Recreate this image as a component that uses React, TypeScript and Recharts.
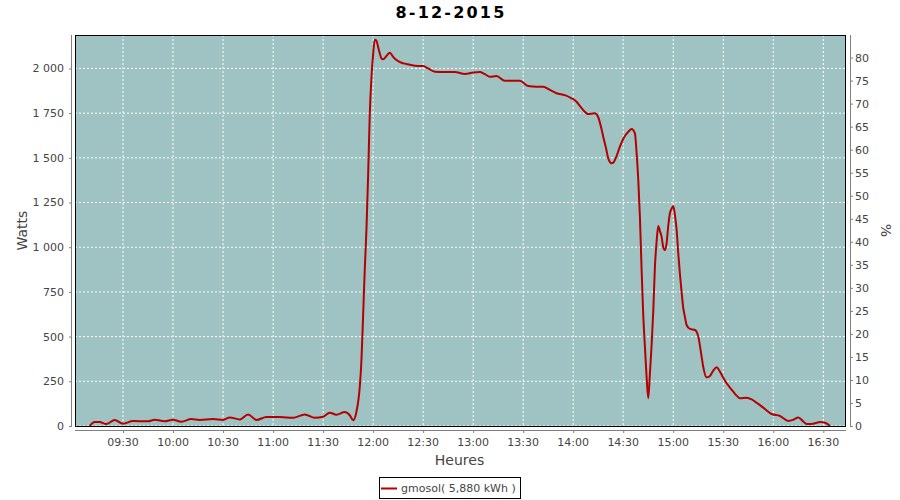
import React from "react";
import { LineChart, Line, XAxis, YAxis, CartesianGrid } from "recharts";

// ---------- data ----------
const TITLE = "8-12-2015";
const SERIES_NAME = "gmosol( 5,880 kWh )";
const X_LABEL = "Heures";
const Y_LEFT_LABEL = "Watts";
const Y_RIGHT_LABEL = "%";

const TIMES = [
  "09:10", "09:13", "09:16", "09:20", "09:25", "09:30", "09:36", "09:45", "09:49", "09:55",
  "10:00", "10:05", "10:11", "10:16", "10:24", "10:30", "10:34", "10:40", "10:45", "10:50",
  "10:56", "11:04", "11:12", "11:19", "11:25", "11:30", "11:34", "11:38", "11:43", "11:46",
  "11:48", "11:50", "11:52", "11:53", "11:54", "11:55", "11:56", "11:57", "11:58", "11:59",
  "12:00", "12:01", "12:02", "12:03", "12:04", "12:05", "12:06", "12:08", "12:10", "12:12",
  "12:14", "12:17", "12:20", "12:25", "12:30", "12:33", "12:37", "12:43", "12:49", "12:55",
  "13:00", "13:04", "13:07", "13:10", "13:14", "13:19", "13:24", "13:28", "13:33", "13:38",
  "13:42", "13:46", "13:50", "13:55", "13:59", "14:02", "14:04", "14:06", "14:09", "14:11",
  "14:13", "14:15", "14:17", "14:18", "14:20", "14:21", "14:23", "14:24", "14:26", "14:28",
  "14:30", "14:31", "14:33", "14:35", "14:37", "14:38", "14:39", "14:40", "14:41", "14:42",
  "14:43", "14:44", "14:45", "14:46", "14:47", "14:48", "14:49", "14:50", "14:51", "14:52",
  "14:53", "14:54", "14:55", "14:56", "14:57", "14:58", "14:59", "15:00", "15:01", "15:02",
  "15:03", "15:04", "15:05", "15:06", "15:07", "15:08", "15:10", "15:13", "15:15", "15:17",
  "15:18", "15:20", "15:22", "15:24", "15:26", "15:28", "15:30", "15:32", "15:34", "15:36",
  "15:38", "15:40", "15:44", "15:47", "15:50", "15:52", "15:55", "15:59", "16:04", "16:09",
  "16:12", "16:15", "16:18", "16:20", "16:23", "16:26", "16:28", "16:31", "16:34",
];

const WATTS = [
  0, 22, 22, 11, 34, 13, 28, 26, 35, 26,
  35, 24, 39, 34, 39, 34, 48, 37, 65, 34,
  50, 50, 46, 65, 46, 52, 74, 63, 78, 60,
  32, 80, 220, 369, 620, 880, 1100, 1400, 1750, 1950,
  2080, 2160, 2155, 2120, 2084, 2055, 2051, 2070, 2088, 2065,
  2047, 2032, 2025, 2015, 2013, 2000, 1982, 1980, 1980, 1969,
  1977, 1980, 1968, 1954, 1957, 1931, 1931, 1931, 1902, 1898,
  1898, 1880, 1861, 1851, 1833, 1814, 1790, 1767, 1745, 1747,
  1749, 1727, 1660, 1618, 1540, 1497, 1470, 1473, 1510, 1562,
  1605, 1622, 1645, 1661, 1637, 1530, 1380, 1170, 880, 620,
  444, 276, 155, 295, 450, 640, 891, 1030, 1119, 1090,
  1059, 1000, 984, 1022, 1120, 1190, 1215, 1230, 1180, 1100,
  966, 850, 750, 660, 610, 565, 543, 537, 500, 388,
  330, 272, 280, 310, 328, 304, 270, 239, 215, 192,
  170, 155, 158, 149, 130, 117, 95, 67, 56, 28,
  35, 48, 25, 11, 11, 18, 22, 18, 0,
];

const X_TICKS = [
  "09:30", "10:00", "10:30", "11:00", "11:30", "12:00", "12:30", "13:00",
  "13:30", "14:00", "14:30", "15:00", "15:30", "16:00", "16:30",
];
const Y_LEFT_TICKS = [0, 250, 500, 750, 1000, 1250, 1500, 1750, 2000];
const Y_RIGHT_TICKS = [0, 5, 10, 15, 20, 25, 30, 35, 40, 45, 50, 55, 60, 65, 70, 75, 80];

const X_DOMAIN = [541.2, 1003.6];
const Y_LEFT_DOMAIN = [0, 2187];
const Y_RIGHT_DOMAIN = [0, 84.9];

// ---------- helpers ----------
const toMin = (s: string) => {
  const [h, m] = s.split(":").map(Number);
  return h * 60 + m;
};
const fmtTime = (v: number) => {
  const h = Math.floor(v / 60);
  const m = Math.round(v - h * 60);
  return `${String(h).padStart(2, "0")}:${String(m).padStart(2, "0")}`;
};
const fmtWatts = (v: number) => {
  if (v >= 1000) {
    const th = Math.floor(v / 1000);
    const rest = String(v % 1000).padStart(3, "0");
    return `${th}\u00a0${rest}`;
  }
  return String(v);
};

const data = TIMES.map((t, i) => ({ t: toMin(t), w: WATTS[i] }));

// ---------- layout / style ----------
const W = 900;
const H = 500;
const PL = 75;
const PR = 846;
const PT = 35;
const PB = 426;
const FONT = "'DejaVu Sans', sans-serif";
const TXT = "#444444";
const AXIS = "#808080";
const LINE = "#b40000";
const BG = "#9ec3c2";

const LeftTick = (props: any) => {
  const { x, y, payload } = props;
  return (
    <g>
      <line x1={x - 6} x2={x - 3.5} y1={y + 0.5} y2={y + 0.5} stroke={AXIS} />
      <text x={x - 11} y={y} dy="0.36em" textAnchor="end" fontSize={11} fontFamily={FONT} fill={TXT}>
        {fmtWatts(payload.value)}
      </text>
    </g>
  );
};

const RightTick = (props: any) => {
  const { x, y, payload } = props;
  return (
    <g>
      <line x1={x + 4.5} x2={x + 7} y1={y + 0.5} y2={y + 0.5} stroke={AXIS} />
      <text x={x + 9} y={y} dy="0.36em" textAnchor="start" fontSize={11} fontFamily={FONT} fill={TXT}>
        {payload.value}
      </text>
    </g>
  );
};

const BottomTick = (props: any) => {
  const { x, y, payload } = props;
  return (
    <g>
      <line x1={x + 0.5} x2={x + 0.5} y1={y + 4.5} y2={y + 7} stroke={AXIS} />
      <text x={x} y={y + 20} textAnchor="middle" fontSize={11} fontFamily={FONT} fill={TXT}>
        {fmtTime(payload.value)}
      </text>
    </g>
  );
};

export default function App() {
  return (
    <div style={{ position: "absolute", left: 0, top: 0, width: W, height: H, background: "#ffffff" }}>
      <LineChart
        width={W}
        height={H}
        data={data}
        margin={{ top: PT, right: 0, bottom: 0, left: 0 }}
      >
        <CartesianGrid
          yAxisId="left"
          fill={BG}
          fillOpacity={1}
          stroke="#ffffff"
          strokeDasharray="2 2"
        />
        <XAxis
          dataKey="t"
          type="number"
          domain={X_DOMAIN}
          allowDataOverflow
          ticks={X_TICKS.map(toMin)}
          interval={0}
          height={H - PB}
          tickSize={0}
          tickMargin={0}
          axisLine={false}
          tickLine={false}
          tick={<BottomTick />}
        />
        <YAxis
          yAxisId="left"
          orientation="left"
          width={PL}
          domain={Y_LEFT_DOMAIN}
          allowDataOverflow
          ticks={Y_LEFT_TICKS}
          interval={0}
          tickSize={0}
          tickMargin={0}
          axisLine={false}
          tickLine={false}
          tick={<LeftTick />}
        />
        <YAxis
          yAxisId="right"
          orientation="right"
          width={W - PR}
          domain={Y_RIGHT_DOMAIN}
          allowDataOverflow
          ticks={Y_RIGHT_TICKS}
          interval={0}
          tickSize={0}
          tickMargin={0}
          axisLine={false}
          tickLine={false}
          tick={<RightTick />}
        />
        <Line
          yAxisId="left"
          type="monotone"
          dataKey="w"
          name={SERIES_NAME}
          stroke={LINE}
          strokeWidth={2}
          dot={false}
          isAnimationActive={false}
        />
      </LineChart>
      <svg
        width={W}
        height={H}
        style={{ position: "absolute", left: 0, top: 0, pointerEvents: "none" }}
      >
        {/* plot border */}
        <rect x={PL + 0.5} y={PT + 0.5} width={PR - PL - 1} height={PB - PT} fill="none" stroke="#000000" />
        {/* axis lines */}
        <line x1={PL - 3.5} x2={PL - 3.5} y1={PT} y2={PB + 1} stroke={AXIS} />
        <line x1={PR + 4.5} x2={PR + 4.5} y1={PT} y2={PB + 1} stroke={AXIS} />
        <line x1={PL} x2={PR} y1={PB + 4.5} y2={PB + 4.5} stroke={AXIS} />
        {/* title */}
        <text x={W / 2 + 1} y={18} textAnchor="middle" fontSize={16} fontWeight="bold" fontFamily={FONT} fill="#000000" letterSpacing={2.2}>
          {TITLE}
        </text>
        {/* axis labels */}
        <text x={(PL + PR) / 2 - 1} y={465} textAnchor="middle" fontSize={14} fontFamily={FONT} fill={TXT}>
          {X_LABEL}
        </text>
        <text
          x={0}
          y={0}
          transform={`translate(27, ${(PT + PB) / 2}) rotate(-90)`}
          textAnchor="middle"
          fontSize={14}
          fontFamily={FONT}
          fill={TXT}
        >
          {Y_LEFT_LABEL}
        </text>
        <text
          x={0}
          y={0}
          transform={`translate(881, ${(PT + PB) / 2}) rotate(90)`}
          textAnchor="middle"
          fontSize={14}
          fontFamily={FONT}
          fill={TXT}
        >
          {Y_RIGHT_LABEL}
        </text>
        {/* legend */}
        <rect x={379.5} y={477.5} width={141} height={21} fill="#ffffff" stroke="#000000" />
        <line x1={381} x2={397} y1={488.5} y2={488.5} stroke={LINE} strokeWidth={2} />
        <text x={401} y={492} fontSize={11} fontFamily={FONT} fill={TXT}>
          {SERIES_NAME}
        </text>
      </svg>
    </div>
  );
}
